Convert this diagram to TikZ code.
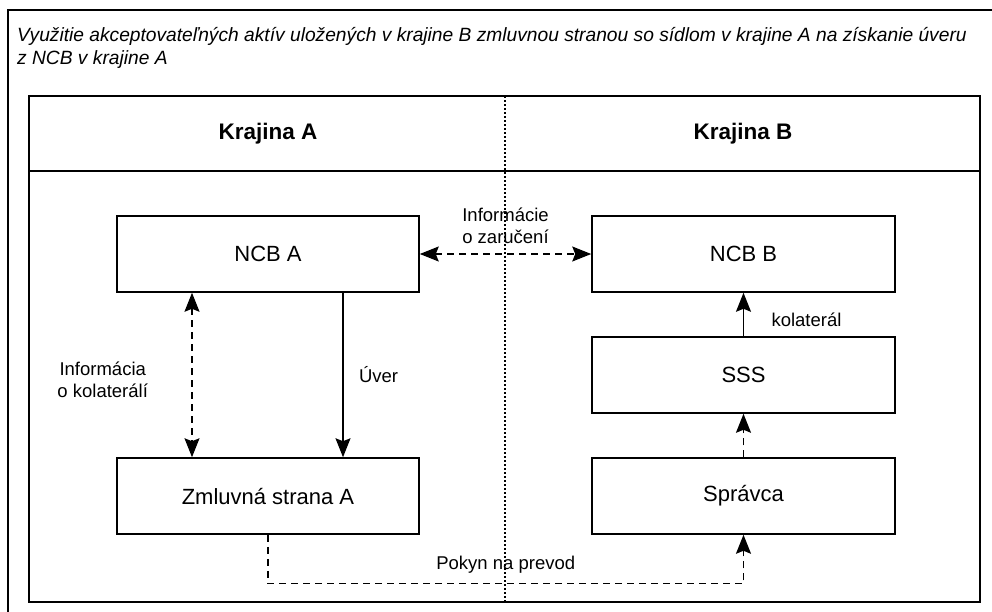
\documentclass[tikz,border=0pt]{standalone}
\usepackage{fontspec}
\setmainfont{Liberation Sans}
\usetikzlibrary{arrows.meta, positioning}

\begin{document}
\begin{tikzpicture}
        [x=1pt, y=-1pt,
        block/.style ={rectangle, draw, line width=1.5pt,
        minimum width=302pt, minimum height=76pt, inner sep=0pt,
        font=\fontsize{22}{26}\selectfont},
        line/.style ={draw, line width=1.4pt,
        -{Stealth[length=19pt,width=15pt,inset=3pt]}},
        both/.style ={{Stealth[length=19pt,width=15pt,inset=3pt]}-{Stealth[length=19pt,width=15pt,inset=3pt]}},
        dashline/.style ={dash pattern=on 7pt off 5pt},
        lbl/.style ={font=\fontsize{18.5}{22}\selectfont, align=center},
        heading/.style ={font=\fontsize{22.5}{26}\selectfont\bfseries},
        frame/.style ={draw, line width=1.8pt}]
        \useasboundingbox (0,0) rectangle (992,611);
        % frames
        \draw [frame] (8,640) |- (1010,10);
        \draw [frame] (29,96) rectangle (980,602);
        \draw [line width=1.4pt] (29,171) -- (980,171);
        \draw [line width=1.3pt, dash pattern=on 1.5pt off 2.5pt] (505,96) -- (505,602);
        % title and headings
        \node [anchor=west, align=left, inner sep=0pt,
               font=\fontsize{19.2}{23}\selectfont\itshape] (nazov) at (17,48)
              {Využitie akceptovateľných aktív uložených v krajine B zmluvnou stranou so sídlom v krajine A na získanie úveru\\z NCB v krajine A};
        \node [heading] (krajinaA) at (268,134) {Krajina A};
        \node [heading] (krajinaB) at (743,134) {Krajina B};
        % country A
        \node [block] (ncba) at (268,254) {NCB A};
        \node [block] (zmluvna) at (268,496) {Zmluvná strana A};
        % country B
        \node [block, minimum width=303pt] (ncbb) at (743.5,254) {NCB B};
        \node [block, minimum width=303pt] (sss) at (743.5,375) {SSS};
        \node [block, minimum width=303pt] (spravca) at (743.5,496) {Správca};
        \begin{scope}[every path/.style=line]
            \path [dashline, both] (ncba) -- node [lbl, above=6pt] {Informácie\\o zaručení} (ncbb);
            \path [dashline, both] ([xshift=-76pt]ncba.south) -- node [lbl, pos=0.53, left=40pt] {Informácia\\o kolaterálí} ([xshift=-76pt]zmluvna.north);
            \path ([xshift=75pt]ncba.south) -- node [lbl, midway, right=12pt] {Úver} ([xshift=75pt]zmluvna.north);
            \path (sss) -- node [lbl, pos=0.38, right=24pt] {kolaterál} (ncbb);
            \path [dashline] (spravca) -- (sss);
            \path [dashline] (zmluvna.south) -- ++(0,49) -| node [lbl, pos=0.25, above=6pt] {Pokyn na prevod} (spravca.south);
        \end{scope}
\end{tikzpicture}
\end{document}
